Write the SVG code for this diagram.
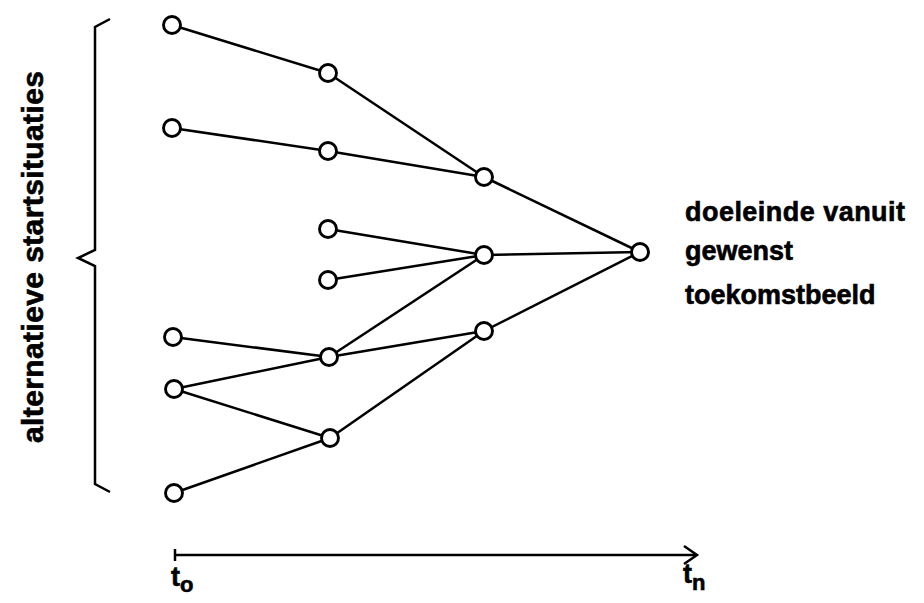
<svg xmlns="http://www.w3.org/2000/svg" width="924" height="603" viewBox="0 0 924 603">
<style>
.n{fill:#fff;stroke:#000;stroke-width:2.9}
.e{stroke:#000;stroke-width:2.5;fill:none}
.t{font-family:"Liberation Sans",Arial,sans-serif;font-weight:bold;fill:#000;stroke:#000;stroke-width:0.6}
</style>
<rect width="924" height="603" fill="#fff"/>
<g id="connectors" class="e">
<line x1="172" y1="25" x2="328" y2="73"/>
<line x1="172" y1="128" x2="328" y2="151"/>
<line x1="328" y1="73" x2="484" y2="177"/>
<line x1="328" y1="151" x2="484" y2="177"/>
<line x1="484" y1="177" x2="640" y2="252"/>
<line x1="328" y1="229" x2="484" y2="255"/>
<line x1="328" y1="280" x2="484" y2="255"/>
<line x1="484" y1="255" x2="640" y2="252"/>
<line x1="173" y1="337" x2="329" y2="357"/>
<line x1="174" y1="389" x2="329" y2="357"/>
<line x1="174" y1="389" x2="330" y2="438"/>
<line x1="329" y1="357" x2="484" y2="255"/>
<line x1="329" y1="357" x2="484" y2="331"/>
<line x1="330" y1="438" x2="484" y2="331"/>
<line x1="174" y1="493" x2="330" y2="438"/>
<line x1="484" y1="331" x2="640" y2="252"/>
</g>
<g id="a1"><circle class="n" cx="172" cy="25" r="8.5"/></g>
<g id="a2"><circle class="n" cx="172" cy="128" r="8.5"/></g>
<g id="a3"><circle class="n" cx="173" cy="337" r="8.5"/></g>
<g id="a4"><circle class="n" cx="174" cy="389" r="8.5"/></g>
<g id="a5"><circle class="n" cx="174" cy="493" r="8.5"/></g>
<g id="b1"><circle class="n" cx="328" cy="73" r="8.5"/></g>
<g id="b2"><circle class="n" cx="328" cy="151" r="8.5"/></g>
<g id="b3"><circle class="n" cx="328" cy="229" r="8.5"/></g>
<g id="b4"><circle class="n" cx="328" cy="280" r="8.5"/></g>
<g id="b5"><circle class="n" cx="329" cy="357" r="8.5"/></g>
<g id="b6"><circle class="n" cx="330" cy="438" r="8.5"/></g>
<g id="c1"><circle class="n" cx="484" cy="177" r="8.5"/></g>
<g id="c2"><circle class="n" cx="484" cy="255" r="8.5"/></g>
<g id="c3"><circle class="n" cx="484" cy="331" r="8.5"/></g>
<g id="d"><circle class="n" cx="640" cy="252" r="8.5"/></g>
<g id="brace">
<path class="e" d="M110,19 L95,27 L95,250 L78,258 L95,266 L95,484 L110,492"/>
</g>
<g id="label-left">
<text class="t" font-size="30" transform="translate(43,257) rotate(-90)" text-anchor="middle" textLength="372" lengthAdjust="spacing">alternatieve startsituaties</text>
</g>
<g id="label-right">
<text class="t" font-size="27" x="685" y="221" textLength="220" lengthAdjust="spacing">doeleinde vanuit</text>
<text class="t" font-size="27" x="685" y="260">gewenst</text>
<text class="t" font-size="27" x="685" y="304">toekomstbeeld</text>
</g>
<g id="axis">
<line class="e" x1="175" y1="555" x2="696" y2="555"/>
<line class="e" x1="175" y1="549" x2="175" y2="561"/>
<path class="e" d="M684,546 L697,555 L684,564"/>
<text class="t" font-size="27" x="171" y="586">t<tspan font-size="22" dy="6">o</tspan></text>
<text class="t" font-size="27" x="683" y="583">t<tspan font-size="22" dy="7">n</tspan></text>
</g>
</svg>
